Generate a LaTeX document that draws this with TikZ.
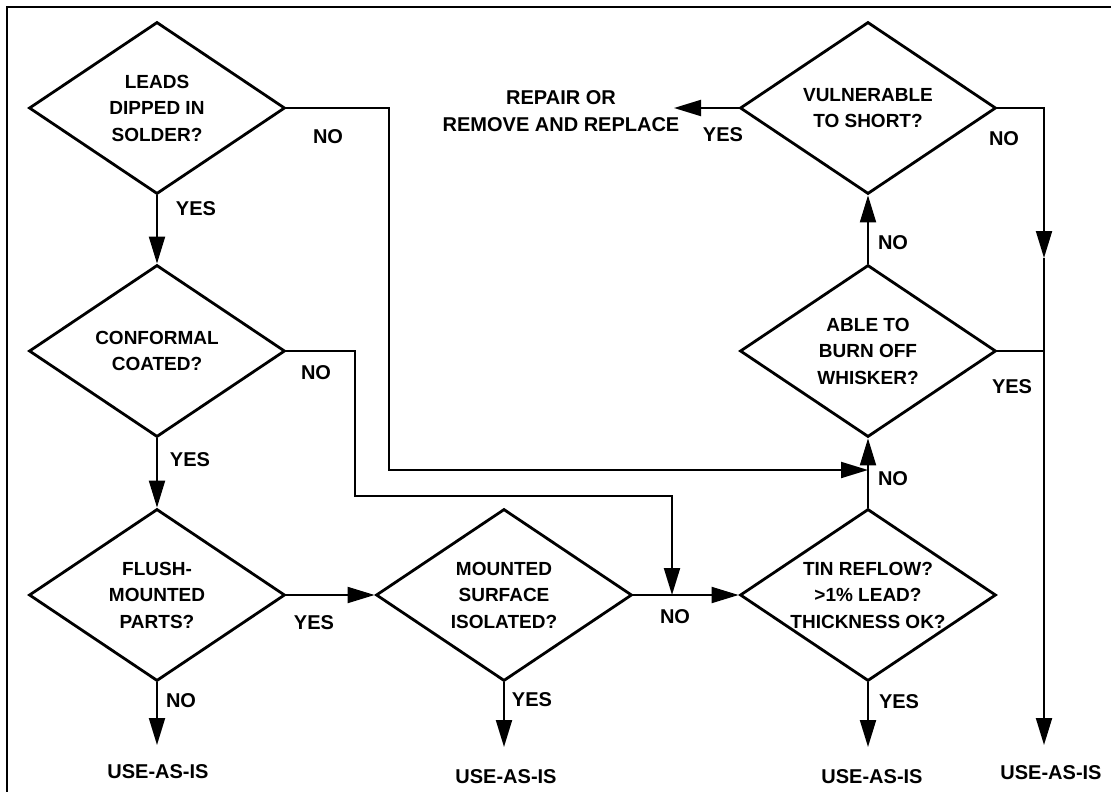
\documentclass[tikz,border=0pt]{standalone}
\usepackage{fontspec}
\setmainfont{Liberation Sans}
\usetikzlibrary{shapes.geometric,arrows.meta}
\newcommand\dfont{\fontsize{19pt}{26.5pt}\selectfont\bfseries}
\newcommand\lfont{\fontsize{20pt}{27pt}\selectfont\bfseries}
\begin{document}
\begin{tikzpicture}[x=1pt,y=-1pt,
  dec/.style={diamond, draw, line width=2.8pt, minimum width=256pt, minimum height=172pt, inner sep=0pt},
  dtext/.style={font=\dfont, align=center, inner sep=0pt},
  lab/.style={font=\lfont, inner sep=0pt},
  conn/.style={line width=2pt},
  arr/.style={line width=2pt, -{Triangle[length=27pt,width=16pt]}}]
\useasboundingbox (0,0) rectangle (1111,792);
% frame (left and top edges)
\draw[line width=2pt] (7,792) -- (7,7) -- (1111,7);
% decisions
\node[dec, label={[dtext]center:{LEADS\\DIPPED IN\\SOLDER?}}] (d1) at (157,108) {};
\node[dec, label={[dtext]center:{CONFORMAL\\COATED?}}] (d2) at (157,351) {};
\node[dec, label={[dtext]center:{FLUSH-\\MOUNTED\\PARTS?}}] (d3) at (157,595) {};
\node[dec, label={[dtext]center:{MOUNTED\\SURFACE\\ISOLATED?}}] (d4) at (504,595) {};
\node[dec, label={[dtext]center:{TIN REFLOW?\\>1\% LEAD?\\THICKNESS OK?}}] (d5) at (868,595) {};
\node[dec, label={[dtext]center:{ABLE TO\\BURN OFF\\WHISKER?}}] (d6) at (868,351) {};
\node[dec, label={[dtext]center:{VULNERABLE\\TO SHORT?}}] (d7) at (868,108) {};
% outcomes
\node[lab] (u1) at (158,772) {USE-AS-IS};
\node[lab] (u2) at (506,777) {USE-AS-IS};
\node[lab] (u3) at (872,777) {USE-AS-IS};
\node[lab] (u4) at (1051,773) {USE-AS-IS};
\node[lab, align=center] (rep) at (561,111) {REPAIR OR\\REMOVE AND REPLACE};
% helper coordinates
\coordinate (t1) at (157,745);
\coordinate (t2) at (504,747);
\coordinate (t3) at (868,747);
\coordinate (c7) at (1044,108);
\coordinate (m7) at (1044,258);
\coordinate (t4) at (1044,745);
\coordinate (k1) at (389,470);
\coordinate (j1) at (868,470);
\coordinate (k2) at (355,496);
\coordinate (j2) at (672,595);
\coordinate (r1) at (674,108);
% connectors
\draw[arr] (d1.south) -- (d2.north);
\draw[arr] (d2.south) -- (d3.north);
\draw[arr] (d3.south) -- (t1);
\draw[arr] (d3.east) -- (d4.west);
\draw[arr] (d4.south) -- (t2);
\draw[arr] (d4.east) -- (d5.west);
\draw[arr] (d5.south) -- (t3);
\draw[arr] (d5.north) -- (d6.south);
\draw[arr] (d6.north) -- (d7.south);
\draw[arr] (d7.west) -- (r1);
\draw[arr] (d1.east) -| (k1) -- (j1);
\draw[arr] (d2.east) -| (k2) -| (j2);
\draw[arr] (d7.east) -- (c7) -- (m7);
\draw[arr] (m7) -- (t4);
\draw[conn] (d6.east) -- (d6.east -| c7);
% labels
\node[lab] at (196,209) {YES};
\node[lab] at (328,137) {NO};
\node[lab] at (190,460) {YES};
\node[lab] at (316,373) {NO};
\node[lab] at (181,701) {NO};
\node[lab] at (314,623) {YES};
\node[lab] at (532,700) {YES};
\node[lab] at (675,617) {NO};
\node[lab] at (899,702) {YES};
\node[lab] at (893,479) {NO};
\node[lab] at (1012,387) {YES};
\node[lab] at (893,243) {NO};
\node[lab] at (1004,139) {NO};
\node[lab] at (723,135) {YES};
\end{tikzpicture}
\end{document}
